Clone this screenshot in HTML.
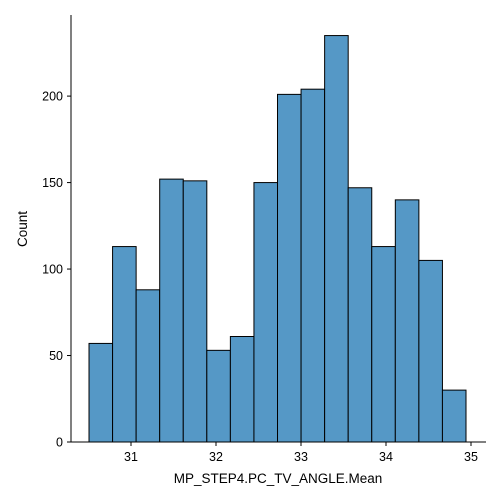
<!DOCTYPE html>
<html><head><meta charset="utf-8"><style>
body{margin:0;background:#fff}
svg{display:block;font-family:"Liberation Sans","DejaVu Sans",sans-serif}
</style></head><body>
<svg id="chart" width="500" height="500"></svg>
<script>
const binStart = 30.506;
const binWidth = 0.2772;
const counts = [57,113,88,152,151,53,61,150,201,204,235,147,113,140,105,30];
const xTicks = [31,32,33,34,35];
const yTicks = [0,50,100,150,200];
const xLabel = "MP_STEP4.PC_TV_ANGLE.Mean";
const yLabel = "Count";

const svg = document.getElementById('chart');
const NS = 'http://www.w3.org/2000/svg';
const X = v => 131 + (v - 31) * 85;
const Y = v => 442 - v * 1.7295;
function mk(tag, attrs, parent){const e=document.createElementNS(NS,tag);for(const k in attrs)e.setAttribute(k,attrs[k]);(parent||svg).appendChild(e);return e;}

const bars = mk('g',{});


counts.forEach((c,i)=>{
  const x0=X(binStart+i*binWidth), x1=X(binStart+(i+1)*binWidth);
  const r=mk('rect',{x:x0,y:Y(c),width:x1-x0,height:Y(0)-Y(c),fill:'#5598c6',stroke:'#000','stroke-width':1},bars);
  
  
});
const ax=mk('path',{d:'M71,15V442H486',fill:'none',stroke:'#000','stroke-width':1});


xTicks.forEach(t=>{
  mk('line',{x1:X(t),x2:X(t),y1:442,y2:446,stroke:'#000'});
  const tx=mk('text',{x:X(t),y:461,'text-anchor':'middle','font-size':12.5,fill:'#000'});
  tx.textContent=t;
  
  
});
yTicks.forEach(t=>{
  mk('line',{x1:67,x2:71,y1:Y(t),y2:Y(t),stroke:'#000'});
  const tx=mk('text',{x:63,y:Y(t)+4.5,'text-anchor':'end','font-size':12.5,fill:'#000'});
  tx.textContent=t;
  
  
});
const xl=mk('text',{x:278,y:483,'text-anchor':'middle','font-size':13.5});
xl.textContent=xLabel;


const yl=mk('text',{x:27,y:229,'text-anchor':'middle','font-size':13.5,transform:'rotate(-90 27 229)'});
yl.textContent=yLabel;


</script>
</body></html>
